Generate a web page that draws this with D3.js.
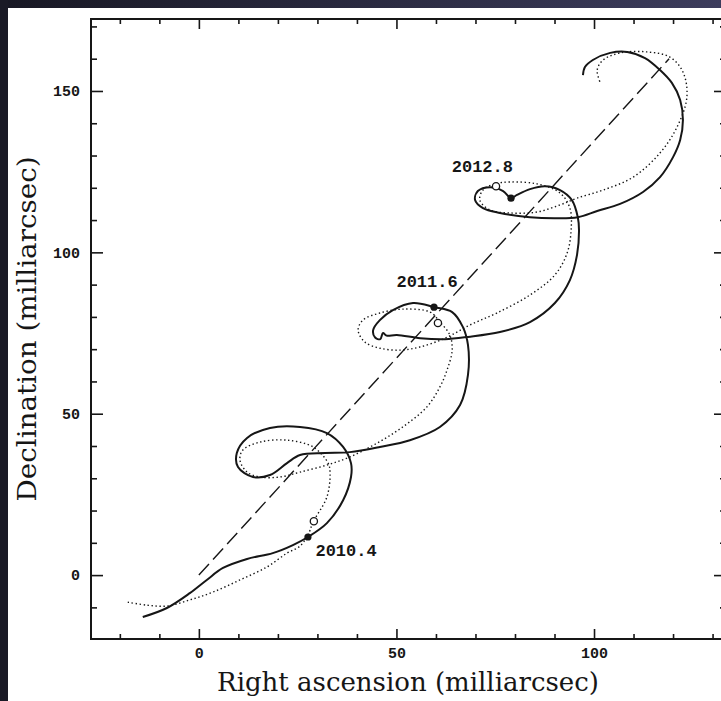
<!DOCTYPE html>
<html><head><meta charset="utf-8">
<script src="https://cdn.jsdelivr.net/npm/d3@7"></script>
<style>html,body{margin:0;padding:0;background:#fff;}svg{display:block;}</style>
</head><body>
<script>
// ---- data (milliarcsec) ----
const solidRA  = [-14.2,-8.1,-2.3,2.0,6.1,12.2,18.7,23.8,27.6,32.4,36.5,38.5,38.5,36.5,32.4,25.6,18.0,12.2,9.6,9.9,13.7,18.0,22.3,25.6,31.9,38.2,45.8,53.4,61.0,66.1,68.1,68.1,66.8,64.1,59.7,54.2,49.1,45.8,44.1,44.6,45.9,46.6,47.5,50.1,56.0,62.3,68.1,76.2,83.8,90.1,93.9,95.7,96.2,95.9,94.4,91.4,87.6,83.8,80.5,79.0,77.0,73.7,70.6,69.9,71.9,76.2,83.8,90.1,95.9,100.8,106.6,112.4,116.7,120.0,121.8,122.5,121.8,119.7,116.7,112.9,108.4,104.1,99.7,97.7,97.2];
const solidDec = [-13.0,-10.2,-5.6,-1.5,2.2,5.0,6.8,9.3,11.8,16.1,23.2,30.4,34.7,39.7,44.0,45.9,45.6,42.5,37.8,33.5,30.4,31.0,34.7,37.2,37.8,38.1,39.7,41.8,45.9,52.7,62.0,71.3,76.9,81.5,83.0,84.3,82.1,79.0,75.9,73.6,73.1,75.0,74.2,74.4,73.4,73.1,73.8,75.3,78.4,84.3,91.4,99.2,106.9,110.9,116.2,119.3,120.5,119.6,117.8,116.8,119.0,120.2,119.0,116.2,113.7,112.2,110.9,110.6,110.9,112.8,115.0,118.7,123.3,129.5,134.8,141.0,147.2,152.5,156.5,160.2,162.1,161.8,159.6,157.4,154.9];
const dottedRA  = [-18.0,-13.2,-8.1,-2.3,3.5,10.4,17.2,22.3,25.6,27.6,28.9,32.4,33.2,32.7,28.9,22.3,15.4,11.1,10.4,12.2,15.4,20.5,25.6,32.4,38.2,45.1,51.6,57.7,61.0,62.8,64.1,63.5,61.0,58.5,51.6,45.8,41.5,40.3,42.0,45.8,50.9,56.0,62.3,68.6,75.4,83.8,90.1,93.2,94.2,93.9,91.4,85.6,78.7,74.9,71.9,71.1,73.7,78.7,85.6,91.4,95.7,102.3,109.9,116.7,121.0,123.5,122.5,119.2,113.4,106.6,102.3,100.8,101.5];
const dottedDec = [-8.4,-9.3,-9.6,-7.7,-5.3,-1.5,2.5,6.8,9.0,12.4,16.4,24.2,31.6,34.7,39.7,41.8,41.2,38.7,35.6,31.9,30.4,30.4,31.9,34.1,36.6,40.9,45.9,52.1,58.3,63.5,69.7,74.4,78.4,81.5,82.4,81.2,79.0,75.9,72.2,70.3,69.7,70.7,73.4,77.5,81.2,86.8,93.0,99.8,106.9,113.7,118.4,121.2,121.8,121.2,119.3,116.2,113.1,112.2,112.5,114.7,116.8,119.3,123.3,130.8,138.8,148.1,155.9,160.5,162.1,161.8,159.6,156.5,152.8];
const dashedRA  = [0, 119];
const dashedDec = [0, 160];
const epochLabels = ["2010.4","2011.6","2012.8"];
const filledRA  = [27.6, 59.5, 79.0];
const filledDec = [11.8, 83.0, 116.8];
const openRA    = [29.1, 60.5, 75.2];
const openDec   = [16.7, 78.1, 120.5];
const labelRA   = [29.5, 50.0, 64.0];
const labelDec  = [6.0, 89.3, 125.0];
const xMajorTicks = [0, 50, 100];
const xMinorTicks = [-20,-10,10,20,30,40,60,70,80,90,110,120,130];
const yMajorTicks = [0, 50, 100, 150];
const yMinorTicks = [-10,10,20,30,40,60,70,80,90,110,120,130,140,160,170];
const xTitle = "Right ascension (milliarcsec)";
const yTitle = "Declination (milliarcsec)";

// ---- drawing ----
const W = 721, H = 701;
const L = 91, R = 726, T = 19, B = 639;
const svg = d3.select("body").append("svg").attr("width", W).attr("height", H);

const defs = svg.append("defs");
const g1 = defs.append("linearGradient").attr("id","bg").attr("x1","0").attr("x2","1").attr("y1","0").attr("y2","0");
g1.append("stop").attr("offset","0").attr("stop-color","#181824");
g1.append("stop").attr("offset","1").attr("stop-color","#3c3c5c");
svg.append("rect").attr("width", W).attr("height", H).attr("fill", "url(#bg)");
svg.append("rect").attr("x", 0).attr("y", 0).attr("width", 8).attr("height", H).attr("fill", "#1a1a26");
svg.append("rect").attr("x", 8).attr("y", 8).attr("width", W - 8).attr("height", H - 8).attr("fill", "#ffffff");

const x = d3.scaleLinear().domain([-27.3, 133.4]).range([L, R]);
const y = d3.scaleLinear().domain([-19.8, 172.3]).range([B, T]);

const ink = "#161616";
const tickFont = "'Liberation Mono', 'DejaVu Sans Mono', monospace";

function styleAxis(sel, showText) {
  sel.select(".domain").remove();
  sel.selectAll(".tick line").attr("stroke", ink).attr("stroke-width", 1.6);
  sel.selectAll(".tick text").attr("fill", ink).attr("font-family", tickFont)
     .attr("font-size", 15).attr("font-weight", "bold");
  if (!showText) sel.selectAll(".tick text").remove();
}

// bottom
svg.append("g").attr("transform", `translate(0,${B})`)
  .call(d3.axisBottom(x).tickValues(xMajorTicks).tickSize(-10).tickPadding(8).tickFormat(d3.format("d")))
  .call(s => styleAxis(s, true));
svg.append("g").attr("transform", `translate(0,${B})`)
  .call(d3.axisBottom(x).tickValues(xMinorTicks).tickSize(-5))
  .call(s => styleAxis(s, false));
// top
svg.append("g").attr("transform", `translate(0,${T})`)
  .call(d3.axisTop(x).tickValues(xMajorTicks).tickSize(-10))
  .call(s => styleAxis(s, false));
svg.append("g").attr("transform", `translate(0,${T})`)
  .call(d3.axisTop(x).tickValues(xMinorTicks).tickSize(-5))
  .call(s => styleAxis(s, false));
// left
svg.append("g").attr("transform", `translate(${L},0)`)
  .call(d3.axisLeft(y).tickValues(yMajorTicks).tickSize(-12).tickPadding(11).tickFormat(d3.format("d")))
  .call(s => styleAxis(s, true));
svg.append("g").attr("transform", `translate(${L},0)`)
  .call(d3.axisLeft(y).tickValues(yMinorTicks).tickSize(-6))
  .call(s => styleAxis(s, false));
// right
svg.append("g").attr("transform", `translate(${R},0)`)
  .call(d3.axisRight(y).tickValues(yMajorTicks).tickSize(-12))
  .call(s => styleAxis(s, false));
svg.append("g").attr("transform", `translate(${R},0)`)
  .call(d3.axisRight(y).tickValues(yMinorTicks).tickSize(-6))
  .call(s => styleAxis(s, false));

// frame
svg.append("rect").attr("x", L).attr("y", T).attr("width", R - L).attr("height", B - T)
  .attr("fill", "none").attr("stroke", ink).attr("stroke-width", 2);

const line = d3.line().x(d => x(d[0])).y(d => y(d[1])).curve(d3.curveCatmullRom.alpha(0.5));
const zip = (a, b) => a.map((v, i) => [v, b[i]]);

const plot = svg.append("g");
plot.append("path").datum(zip(dashedRA, dashedDec)).attr("d", d3.line().x(d => x(d[0])).y(d => y(d[1])))
  .attr("fill", "none").attr("stroke", ink).attr("stroke-width", 1.4).attr("stroke-dasharray", "15,6");
plot.append("path").datum(zip(dottedRA, dottedDec)).attr("d", line)
  .attr("fill", "none").attr("stroke", ink).attr("stroke-width", 1.4).attr("stroke-dasharray", "1.4,2.6")
  .attr("stroke-linecap", "butt");
plot.append("path").datum(zip(solidRA, solidDec)).attr("d", line)
  .attr("fill", "none").attr("stroke", ink).attr("stroke-width", 2);

plot.selectAll("circle.filled").data(zip(filledRA, filledDec)).join("circle").attr("class", "filled")
  .attr("cx", d => x(d[0])).attr("cy", d => y(d[1])).attr("r", 3.6).attr("fill", ink);
plot.selectAll("circle.open").data(zip(openRA, openDec)).join("circle").attr("class", "open")
  .attr("cx", d => x(d[0])).attr("cy", d => y(d[1])).attr("r", 3.6).attr("fill", "#fff")
  .attr("stroke", ink).attr("stroke-width", 1.3);

plot.selectAll("text.epoch").data(epochLabels).join("text").attr("class", "epoch")
  .attr("x", (d, i) => x(labelRA[i])).attr("y", (d, i) => y(labelDec[i]))
  .attr("font-family", tickFont).attr("font-size", 17).attr("font-weight", "bold").attr("fill", ink)
  .text(d => d);

// titles
svg.append("text").attr("x", 408).attr("y", 691).attr("text-anchor", "middle")
  .attr("font-family", "'DejaVu Serif', serif").attr("font-size", 26).attr("fill", ink).text(xTitle);
svg.append("text").attr("transform", `translate(36,329) rotate(-90)`).attr("text-anchor", "middle")
  .attr("font-family", "'DejaVu Serif', serif").attr("font-size", 26).attr("fill", ink)
  .attr("textLength", 345).attr("lengthAdjust", "spacingAndGlyphs").text(yTitle);
</script>
</body></html>
